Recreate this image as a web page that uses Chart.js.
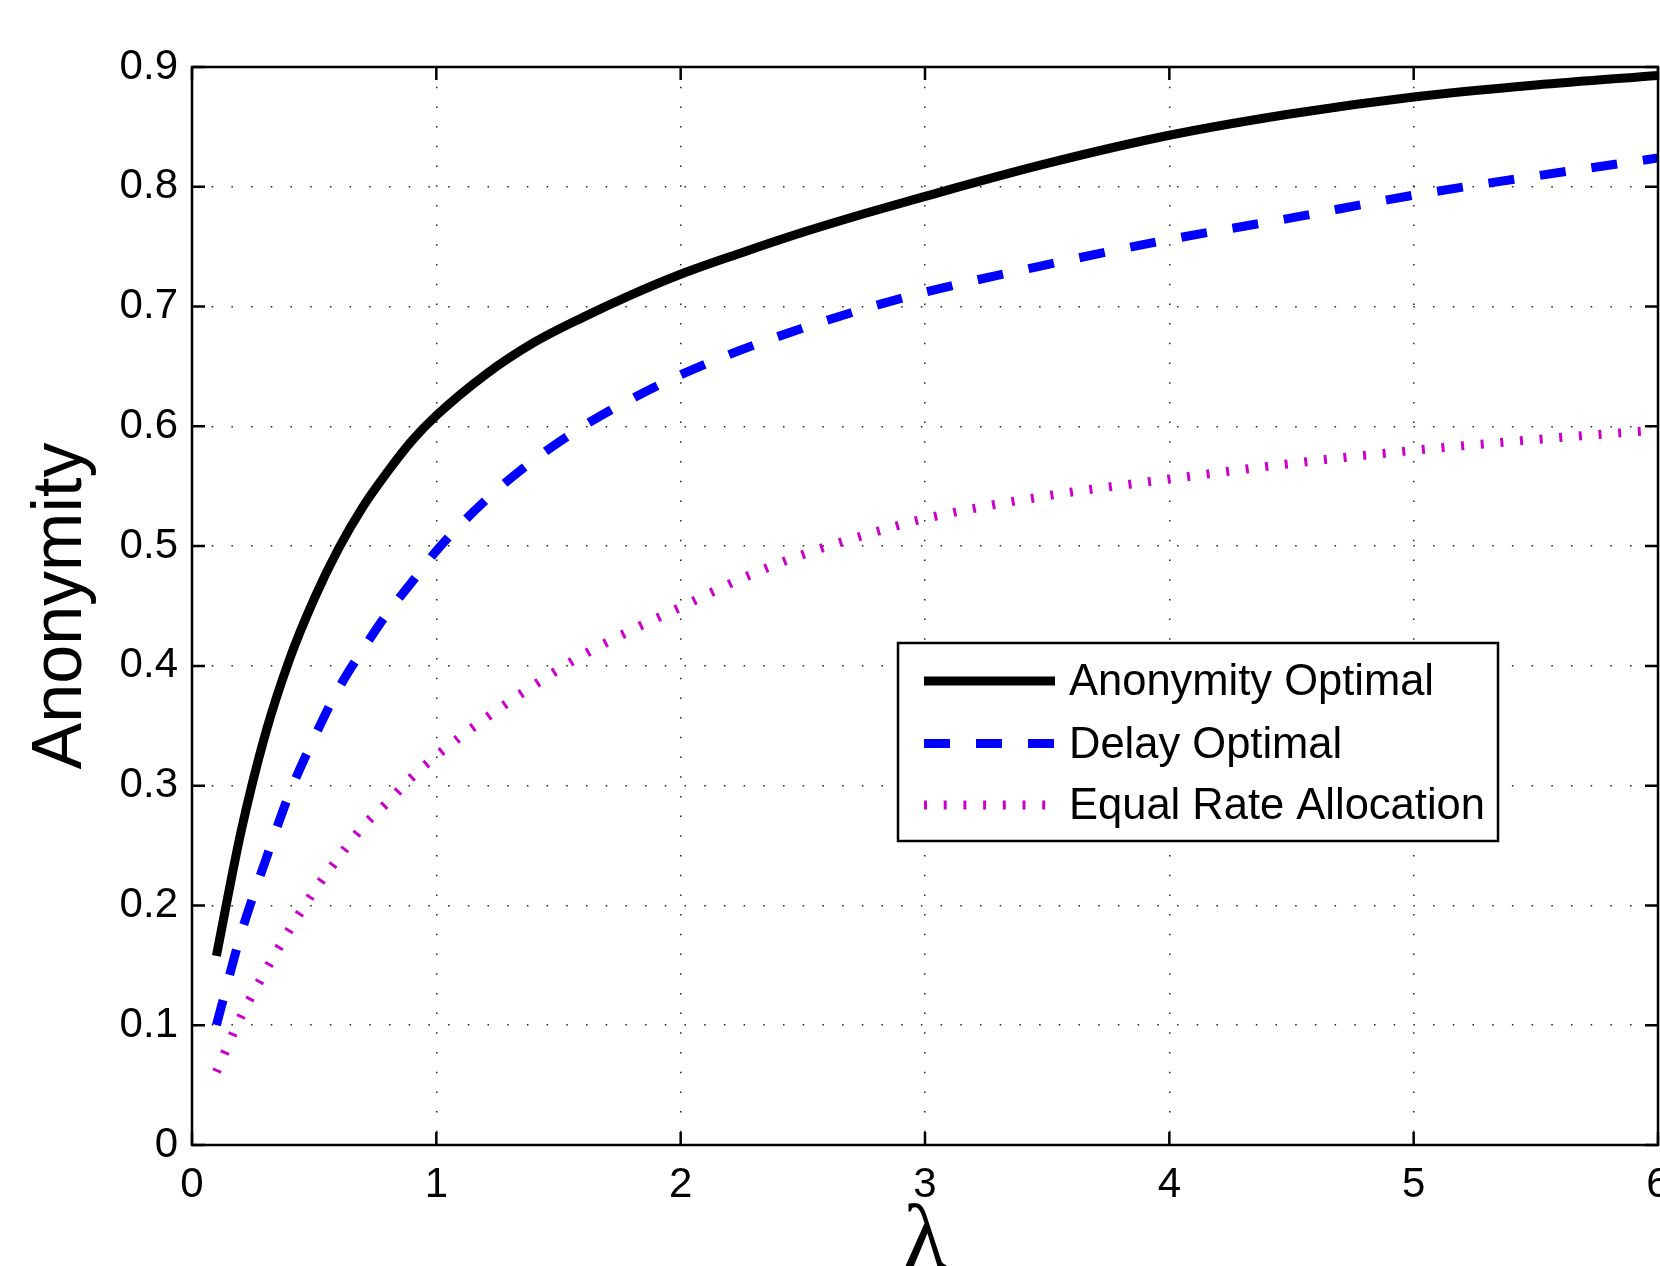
<!DOCTYPE html>
<html>
<head>
<meta charset="utf-8">
<script src="https://cdn.jsdelivr.net/npm/chart.js@4.4.0/dist/chart.umd.min.js"></script>
<style>
  html, body { margin: 0; padding: 0; background: #fff; overflow: hidden; }
  #wrap { width: 1660px; height: 1266px; }
</style>
</head>
<body>
<div id="wrap"><canvas id="myChart"></canvas></div>
<script>
// values
const lambdas = [0.1, 0.2, 0.3, 0.4, 0.5, 0.6, 0.7, 0.8, 0.9, 1.0, 1.2, 1.4, 1.6, 1.8, 2.0, 2.25, 2.5, 2.75, 3.0, 3.5, 4.0, 4.5, 5.0, 5.5, 6.0];
const anonymityOptimal = [0.158, 0.261, 0.343, 0.406, 0.456, 0.498, 0.533, 0.562, 0.588, 0.609, 0.643, 0.670, 0.691, 0.710, 0.727, 0.745, 0.762, 0.7775, 0.792, 0.8195, 0.843, 0.861, 0.875, 0.885, 0.893];
const delayOptimal = [0.100, 0.176, 0.237, 0.294, 0.340, 0.381, 0.414, 0.444, 0.470, 0.496, 0.538, 0.572, 0.600, 0.623, 0.643, 0.664, 0.682, 0.698, 0.712, 0.735, 0.756, 0.774, 0.793, 0.809, 0.824];
const equalRate = [0.061, 0.107, 0.145, 0.180, 0.212, 0.240, 0.266, 0.286, 0.307, 0.325, 0.356, 0.384, 0.409, 0.430, 0.449, 0.473, 0.493, 0.509, 0.523, 0.542, 0.556, 0.569, 0.580, 0.589, 0.597];
const seriesLabels = ['Anonymity Optimal', 'Delay Optimal', 'Equal Rate Allocation'];
const xTicks = [0, 1, 2, 3, 4, 5, 6];
const yTicks = [0, 0.1, 0.2, 0.3, 0.4, 0.5, 0.6, 0.7, 0.8, 0.9];

const SANS = "'Liberation Sans', Arial, Helvetica, sans-serif";
const SERIF = "'Liberation Serif', 'Times New Roman', serif";

const toPoints = (ys) => lambdas.map((x, i) => ({ x: x, y: ys[i] }));

const data = {
  datasets: [{
    label: seriesLabels[0],
    data: toPoints(anonymityOptimal),
    borderColor: '#000000',
    borderWidth: 9,
    borderDash: [],
  }, {
    label: seriesLabels[1],
    data: toPoints(delayOptimal),
    borderColor: '#0000ff',
    borderWidth: 9,
    borderDash: [26, 26],
  }, {
    label: seriesLabels[2],
    data: toPoints(equalRate),
    borderColor: '#cc00cc',
    borderWidth: 9,
    borderDash: [3, 16.7],
  }]
};

// axes box with inward ticks, plus the boxed legend
const matlabAxes = {
  id: 'matlabAxes',
  afterDatasetsDraw(chart) {
    const ctx = chart.ctx;
    const a = chart.chartArea;
    const xs = chart.scales.x, ys = chart.scales.y;
    const tl = 13;
    ctx.save();
    ctx.strokeStyle = '#000';
    ctx.lineWidth = 2.5;
    ctx.setLineDash([]);
    ctx.beginPath();
    xTicks.forEach(v => {
      const px = xs.getPixelForValue(v);
      ctx.moveTo(px, a.bottom); ctx.lineTo(px, a.bottom - tl);
      ctx.moveTo(px, a.top); ctx.lineTo(px, a.top + tl);
    });
    yTicks.forEach(v => {
      const py = ys.getPixelForValue(v);
      ctx.moveTo(a.left, py); ctx.lineTo(a.left + tl, py);
      ctx.moveTo(a.right, py); ctx.lineTo(a.right - tl, py);
    });
    ctx.stroke();
    ctx.strokeRect(a.left, a.top, a.right - a.left, a.bottom - a.top);

    // legend
    const box = { left: 898, top: 643, right: 1498, bottom: 841 };
    const rows = [681, 743.5, 805];
    ctx.fillStyle = '#fff';
    ctx.fillRect(box.left, box.top, box.right - box.left, box.bottom - box.top);
    ctx.lineWidth = 2.5;
    ctx.strokeRect(box.left, box.top, box.right - box.left, box.bottom - box.top);
    chart.data.datasets.forEach((ds, i) => {
      ctx.save();
      ctx.strokeStyle = ds.borderColor;
      ctx.lineWidth = ds.borderWidth;
      ctx.lineCap = 'butt';
      ctx.setLineDash(ds.borderDash);
      ctx.beginPath();
      ctx.moveTo(924, rows[i]);
      ctx.lineTo(1055, rows[i]);
      ctx.stroke();
      ctx.restore();
      ctx.fillStyle = '#000';
      ctx.font = '43.5px ' + SANS;
      ctx.textAlign = 'left';
      ctx.textBaseline = 'middle';
      ctx.fillText(ds.label, 1069, rows[i] + 2);
    });
    ctx.restore();
  }
};

const config = {
  type: 'line',
  data,
  options: {
    responsive: true,
    maintainAspectRatio: false,
    animation: false,
    layout: { autoPadding: false, padding: { top: 67, right: 2, left: 0, bottom: 0 } },
    elements: {
      point: { radius: 0 },
      line: { cubicInterpolationMode: 'monotone', borderCapStyle: 'butt', borderJoinStyle: 'round' }
    },
    plugins: { legend: { display: false }, tooltip: { enabled: false } },
    scales: {
      x: {
        type: 'linear',
        min: 0,
        max: 6,
        afterBuildTicks: (s) => { s.ticks = xTicks.map(v => ({ value: v })); },
        afterFit: (s) => { s.height = 121; s.paddingLeft = 0; s.paddingRight = 0; },
        grid: { color: '#222', lineWidth: 1.5, drawTicks: false },
        border: { display: false, dash: [1.5, 18.2] },
        ticks: { color: '#000', padding: 15, maxRotation: 0, autoSkip: false, font: { family: SANS, size: 42 } },
        title: { display: true, text: 'λ', color: '#000', padding: 0, font: { family: SERIF, size: 90, lineHeight: 0.5 } }
      },
      y: {
        type: 'linear',
        min: 0,
        max: 0.9,
        afterBuildTicks: (s) => { s.ticks = yTicks.map(v => ({ value: v })); },
        afterFit: (s) => { s.width = 192; },
        grid: { color: '#222', lineWidth: 1.5, drawTicks: false },
        border: { display: false, dash: [1.5, 18.2] },
        ticks: {
          color: '#000', padding: 14, autoSkip: false,
          font: { family: SANS, size: 42 },
          callback: (v) => String(Number(v.toFixed(1)))
        },
        title: { display: true, text: 'Anonymity', color: '#000', padding: { top: 20, bottom: 0 }, font: { family: SANS, size: 70 } }
      }
    }
  },
  plugins: [matlabAxes]
};

const myChart = new Chart(document.getElementById('myChart'), config);
</script>
</body>
</html>
